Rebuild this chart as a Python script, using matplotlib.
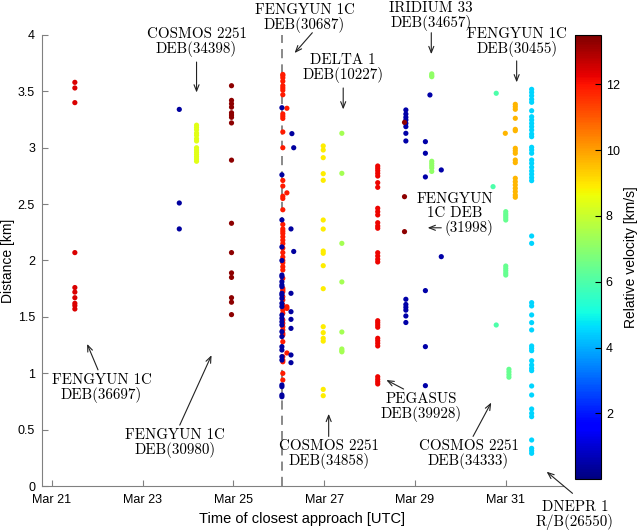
import numpy as np
import matplotlib.pyplot as plt

plt.rcParams['font.family'] = ['Liberation Sans', 'DejaVu Sans']

# x = day of March (UTC), v = relative velocity [km/s], d = distance [km]
tick_days = [21, 23, 25, 27, 29, 31]
tick_labels = ['Mar 21', 'Mar 23', 'Mar 25', 'Mar 27', 'Mar 29', 'Mar 31']

fy36697_x, fy36697_v = 21.51, 12.4
fy36697_d = [3.58, 3.53, 3.40, 2.07, 1.76, 1.72, 1.67, 1.62, 1.60, 1.57]

blue1_x, blue1_v = 23.81, 0.4
blue1_d = [3.34, 2.51, 2.28]

cos34398_x, cos34398_v = 24.19, 8.4
cos34398_d = [3.20, 3.18, 3.16, 3.13, 3.11, 3.08, 3.06, 3.00, 2.98, 2.96,
              2.94, 2.92, 2.90, 2.88]

fy30980_x, fy30980_v = 24.96, 13.3
fy30980_d = [3.55, 3.42, 3.39, 3.36, 3.31, 3.29, 3.27, 3.22, 2.89, 2.33,
             2.07, 1.89, 1.85, 1.67, 1.63, 1.52]

event_day = 26.07
fy30687_x, fy30687_v = 26.09, 11.9
fy30687_d = [3.65, 3.64, 3.62, 3.59, 3.55, 3.53, 3.51, 3.47, 3.30, 3.28,
             3.26, 3.14, 3.00, 2.71, 2.66, 2.57, 2.55, 2.45, 2.32, 2.28,
             2.26, 2.24, 2.21, 2.18, 2.15, 2.11, 2.07, 2.03, 2.00, 1.98,
             1.945, 1.916, 1.842, 1.753, 1.738, 1.724, 1.679, 1.650, 1.605,
             1.591, 1.561, 1.532, 1.472, 1.443, 1.413, 1.384, 1.354, 1.339,
             1.280, 1.147, 1.117, 1.102, 0.999, 0.940]
fy30687b_x = 26.18
fy30687b_d = [3.35, 2.60, 1.59, 1.575, 1.18]

blue2_x, blue2_v = 26.07, 0.4
blue2_d = [3.355, 2.76, 2.36, 2.12, 2.00, 1.871, 1.857, 1.812, 1.783, 1.768,
           1.709, 1.694, 1.664, 1.620, 1.591, 1.516, 1.487, 1.457, 1.428,
           1.369, 1.325, 1.236, 1.206, 1.147, 1.117, 0.896, 0.881, 0.807, 0.792]
blue3_x = [26.29, 26.33, 26.27, 26.33, 26.27, 26.27, 26.27, 26.27, 26.27, 26.27]
blue3_d = [3.125, 3.00, 2.28, 2.08, 1.709, 1.546, 1.478, 1.398, 1.162, 1.094]

cos34858_x, cos34858_v = 26.98, 8.9
cos34858_d = [3.016, 2.98, 2.912, 2.77, 2.711, 2.359, 2.279, 2.084, 2.064,
              1.954, 1.75, 1.413, 1.36, 1.31, 1.285, 0.857, 0.801]

del10227_x, del10227_v = 27.39, 7.4
del10227_d = [3.128, 2.773, 2.152, 1.81, 1.366, 1.215, 1.20, 1.19]

peg39928_x, peg39928_v = 28.18, 12.2
peg39928_d = [2.838, 2.818, 2.797, 2.773, 2.749, 2.690, 2.649, 2.463, 2.433,
              2.404, 2.335, 2.306, 2.286, 2.069, 2.040, 2.011, 1.987, 1.466,
              1.448, 1.428, 1.408, 1.310, 1.289, 1.266, 1.242, 0.969, 0.946,
              0.925, 0.905]

blue4_x, blue4_v = 28.80, 0.5
blue4_d = [3.335, 3.299, 3.270, 3.246, 3.216, 3.187, 3.128, 3.06, 1.656,
           1.61, 1.585, 1.56, 1.508, 1.45]
fy31998_x, fy31998_v = 28.77, 13.3
fy31998_d = [3.225, 2.566, 2.256]

blue5_x = [29.23, 29.23, 29.23, 29.23, 29.23, 29.23, 29.33, 29.58, 29.58]
blue5_d = [3.054, 2.951, 2.741, 1.733, 1.236, 0.890, 3.468, 2.803, 2.034]

iri34657_x, iri34657_v = 29.37, 7.1
iri34657_d = [3.655, 3.64, 3.63, 2.88, 2.86, 2.84, 2.82, 2.79]

green1_x, green1_v = [30.79, 30.72, 30.79], 6.0
green1_d = [3.483, 2.655, 1.428]

cos34333_x, cos34333_v = [31.0] * 10 + [31.07] * 4, 6.4
cos34333_d = [2.433, 2.413, 2.396, 2.378, 2.359, 1.951, 1.930, 1.910, 1.889,
              1.871, 1.035, 1.012, 0.988, 0.965]

fy30455_x, fy30455_v = 31.21, 9.7
fy30455_d = [3.385, 3.364, 3.341, 3.261, 3.163, 3.151, 2.995, 2.974, 2.951,
             2.891, 2.868, 2.729, 2.699, 2.670, 2.640, 2.611, 2.581, 2.561]
fy30455b_x, fy30455b_d = 30.99, [3.128]

dne26550_x, dne26550_v = 31.57, 4.5
dne26550_d = [3.518, 3.491, 3.461, 3.429, 3.403, 3.328, 3.275, 3.246, 3.216,
              3.187, 3.157, 3.122, 3.098, 3.004, 2.980, 2.951, 2.891, 2.862,
              2.827, 2.794, 2.765, 2.735, 2.708, 2.217, 2.152, 1.626, 1.597,
              1.517, 1.449, 1.384, 1.242, 1.221, 1.200, 1.111, 1.073, 1.044,
              1.023, 0.887, 0.807, 0.683, 0.645, 0.615, 0.408, 0.334, 0.313,
              0.290]

groups = [
    (fy36697_x, fy36697_v, fy36697_d),
    (blue1_x, blue1_v, blue1_d),
    (cos34398_x, cos34398_v, cos34398_d),
    (fy30980_x, fy30980_v, fy30980_d),
    (fy30687_x, fy30687_v, fy30687_d),
    (fy30687b_x, fy30687_v, fy30687b_d),
    (blue2_x, blue2_v, blue2_d),
    (blue3_x, blue2_v, blue3_d),
    (cos34858_x, cos34858_v, cos34858_d),
    (del10227_x, del10227_v, del10227_d),
    (peg39928_x, peg39928_v, peg39928_d),
    (blue4_x, blue4_v, blue4_d),
    (fy31998_x, fy31998_v, fy31998_d),
    (blue5_x, blue4_v, blue5_d),
    (iri34657_x, iri34657_v, iri34657_d),
    (green1_x, green1_v, green1_d),
    (cos34333_x, cos34333_v, cos34333_d),
    (fy30455_x, fy30455_v, fy30455_d),
    (fy30455b_x, fy30455_v, fy30455b_d),
    (dne26550_x, dne26550_v, dne26550_d),
]

xs, ds, vs = [], [], []
for gx, gv, gd in groups:
    gx = np.broadcast_to(np.asarray(gx, dtype=float), (len(gd),))
    xs.extend(gx)
    ds.extend(gd)
    vs.extend([gv] * len(gd))

# labels: text, text position, arrow tail, arrow tip (data coords)
labels = [
    ('COSMOS 2251\nDEB(34398)', (24.19, 3.94), (24.19, 3.76), (24.19, 3.49)),
    ('FENGYUN 1C\nDEB(30687)', (26.57, 4.15), (26.74, 4.02), (26.35, 3.84)),
    ('DELTA 1\nDEB(10227)', (27.42, 3.71), (27.42, 3.53), (27.42, 3.34)),
    ('IRIDIUM 33\nDEB(34657)', (29.36, 4.17), (29.36, 4.02), (29.36, 3.83)),
    ('FENGYUN 1C\nDEB(30455)', (31.24, 3.94), (31.24, 3.77), (31.24, 3.58)),
    ('FENGYUN\n1C DEB', (29.88, 2.48), (29.58, 2.29), (29.28, 2.29)),
    ('(31998)', (30.19, 2.29), None, None),
    ('FENGYUN 1C\nDEB(36697)', (22.10, 0.87), (22.02, 1.03), (21.78, 1.26)),
    ('FENGYUN 1C\nDEB(30980)', (23.71, 0.38), (23.82, 0.54), (24.52, 1.16)),
    ('COSMOS 2251\nDEB(34858)', (27.11, 0.28), (27.10, 0.44), (27.10, 0.64)),
    ('PEGASUS\nDEB(39928)', (29.13, 0.70), (28.75, 0.86), (28.37, 0.94)),
    ('COSMOS 2251\nDEB(34333)', (30.18, 0.28), (30.28, 0.44), (30.68, 0.74)),
    ('DNEPR 1\nR/B(26550)', (32.52, -0.26), (32.47, -0.065), (31.90, 0.127)),
]

fig = plt.figure(figsize=(6.38, 5.30), dpi=100)
ax = fig.add_axes([0.0658, 0.083, 0.8166, 0.851])
cax = fig.add_axes([0.901, 0.096, 0.041, 0.838])

ax.axvline(event_day, color='#6a6a6a', ls=(0, (6, 4)), lw=1.1, zorder=1)
sc = ax.scatter(xs, ds, c=vs, cmap='jet', vmin=0, vmax=13.5, s=14,
                linewidths=0, zorder=2)

ax.set_xlim(20.786, 32.26)
ax.set_ylim(0, 4)
ax.set_xticks(tick_days)
ax.set_xticklabels(tick_labels)
ax.set_yticks(np.arange(0, 4.01, 0.5))
ax.set_yticklabels(['0', '0.5', '1', '1.5', '2', '2.5', '3', '3.5', '4'])
for s in ['top', 'right']:
    ax.spines[s].set_visible(False)
for s in ['left', 'bottom']:
    ax.spines[s].set_color('#808080')
ax.tick_params(direction='in', length=4, color='#808080', labelsize=9,
               labelcolor='black')
ax.tick_params(axis='x', pad=6)
ax.tick_params(axis='y', pad=5)
ax.set_xlabel('Time of closest approach [UTC]', fontsize=10.5, labelpad=4)
ax.set_ylabel('Distance [km]', fontsize=10, labelpad=2)

for text, tpos, tail, tip in labels:
    ax.text(tpos[0], tpos[1], text, ha='center', va='center',
            fontfamily='cmr10', fontsize=10.8, linespacing=1.0)
    if tail is not None:
        ax.annotate('', xy=tip, xytext=tail, annotation_clip=False,
                    arrowprops=dict(arrowstyle='->,head_length=0.45,head_width=0.18',
                                    color='#222222', lw=0.8,
                                    shrinkA=0, shrinkB=0))

cb = fig.colorbar(sc, cax=cax)
cb.set_ticks([2, 4, 6, 8, 10, 12])
cb.ax.tick_params(direction='in', length=4, labelsize=9)
cb.outline.set_linewidth(0.8)
cb.set_label('Relative velocity [km/s]', fontsize=10, labelpad=3)

fig.savefig('out.png', dpi=100)
